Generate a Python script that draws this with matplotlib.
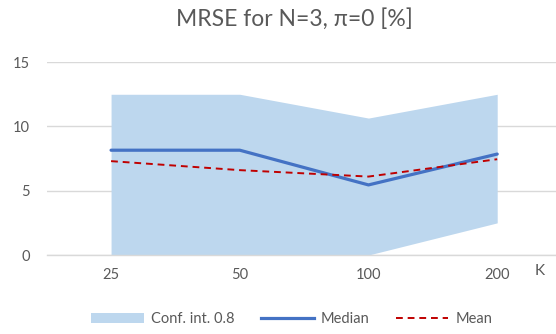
import matplotlib

matplotlib.use("Agg")
import matplotlib.pyplot as plt
from matplotlib.lines import Line2D
from matplotlib.patches import Patch

plt.rcParams["font.family"] = ["Lato", "DejaVu Sans"]

# MRSE summary per K
k_labels = ["25", "50", "100", "200"]
ci_low = [0.0, 0.0, 0.0, 2.5]
ci_high = [12.5, 12.5, 10.65, 12.5]
median = [8.15, 8.15, 5.45, 7.85]
mean = [7.3, 6.6, 6.1, 7.45]

BAND = "#BDD7EE"
BLUE = "#4472C4"
RED = "#C00000"
GREY = "#595959"

fig = plt.figure(figsize=(5.56, 3.34), dpi=100)
ax = fig.add_axes([0.084, 0.2365, 0.926, 0.5775])

x = list(range(len(k_labels)))
ax.fill_between(x, ci_low, ci_high, color=BAND, linewidth=0, zorder=2)
ax.plot(x, median, color=BLUE, linewidth=2.3, solid_capstyle="round", zorder=3)
ax.plot(x, mean, color=RED, linewidth=1.4, dashes=(3.5, 2.5), zorder=4)

ax.set_xlim(-0.5, len(k_labels) - 0.5)
ax.set_ylim(0, 15)
ax.set_yticks([0, 5, 10, 15])
ax.set_xticks(x)
ax.set_xticklabels(k_labels)
ax.grid(axis="y", color="#D9D9D9", linewidth=1.0, zorder=0)
ax.set_axisbelow(True)
for side in ["top", "right", "left"]:
    ax.spines[side].set_visible(False)
ax.spines["bottom"].set_color("#D9D9D9")
ax.spines["bottom"].set_linewidth(1.0)
ax.tick_params(length=0, colors=GREY, labelsize=10.5, pad=9)
ax.tick_params(axis="y", pad=12)

fig.text(540 / 556, 1 - 271 / 334, "K", color=GREY, fontsize=11,
         ha="center", va="center")
fig.text(294 / 556, 1 - 19 / 334, "MRSE for N=3, \u03c0=0 [%]", color=GREY,
         fontsize=16.5, ha="center", va="center")

handles = [
    Patch(facecolor=BAND, edgecolor="none"),
    Line2D([], [], color=BLUE, linewidth=2.3),
    Line2D([], [], color=RED, linewidth=1.4, dashes=(3.5, 2.5)),
]
fig.legend(handles, ["Conf. int. 0.8", "Median", "Mean"], loc="center",
           bbox_to_anchor=(292 / 556, 1 - 319 / 334), ncol=3, frameon=False,
           fontsize=10.5, labelcolor=GREY, handlelength=3.6, handleheight=0.7,
           handletextpad=0.5, columnspacing=1.8)

fig.savefig("out.png", dpi=100)
